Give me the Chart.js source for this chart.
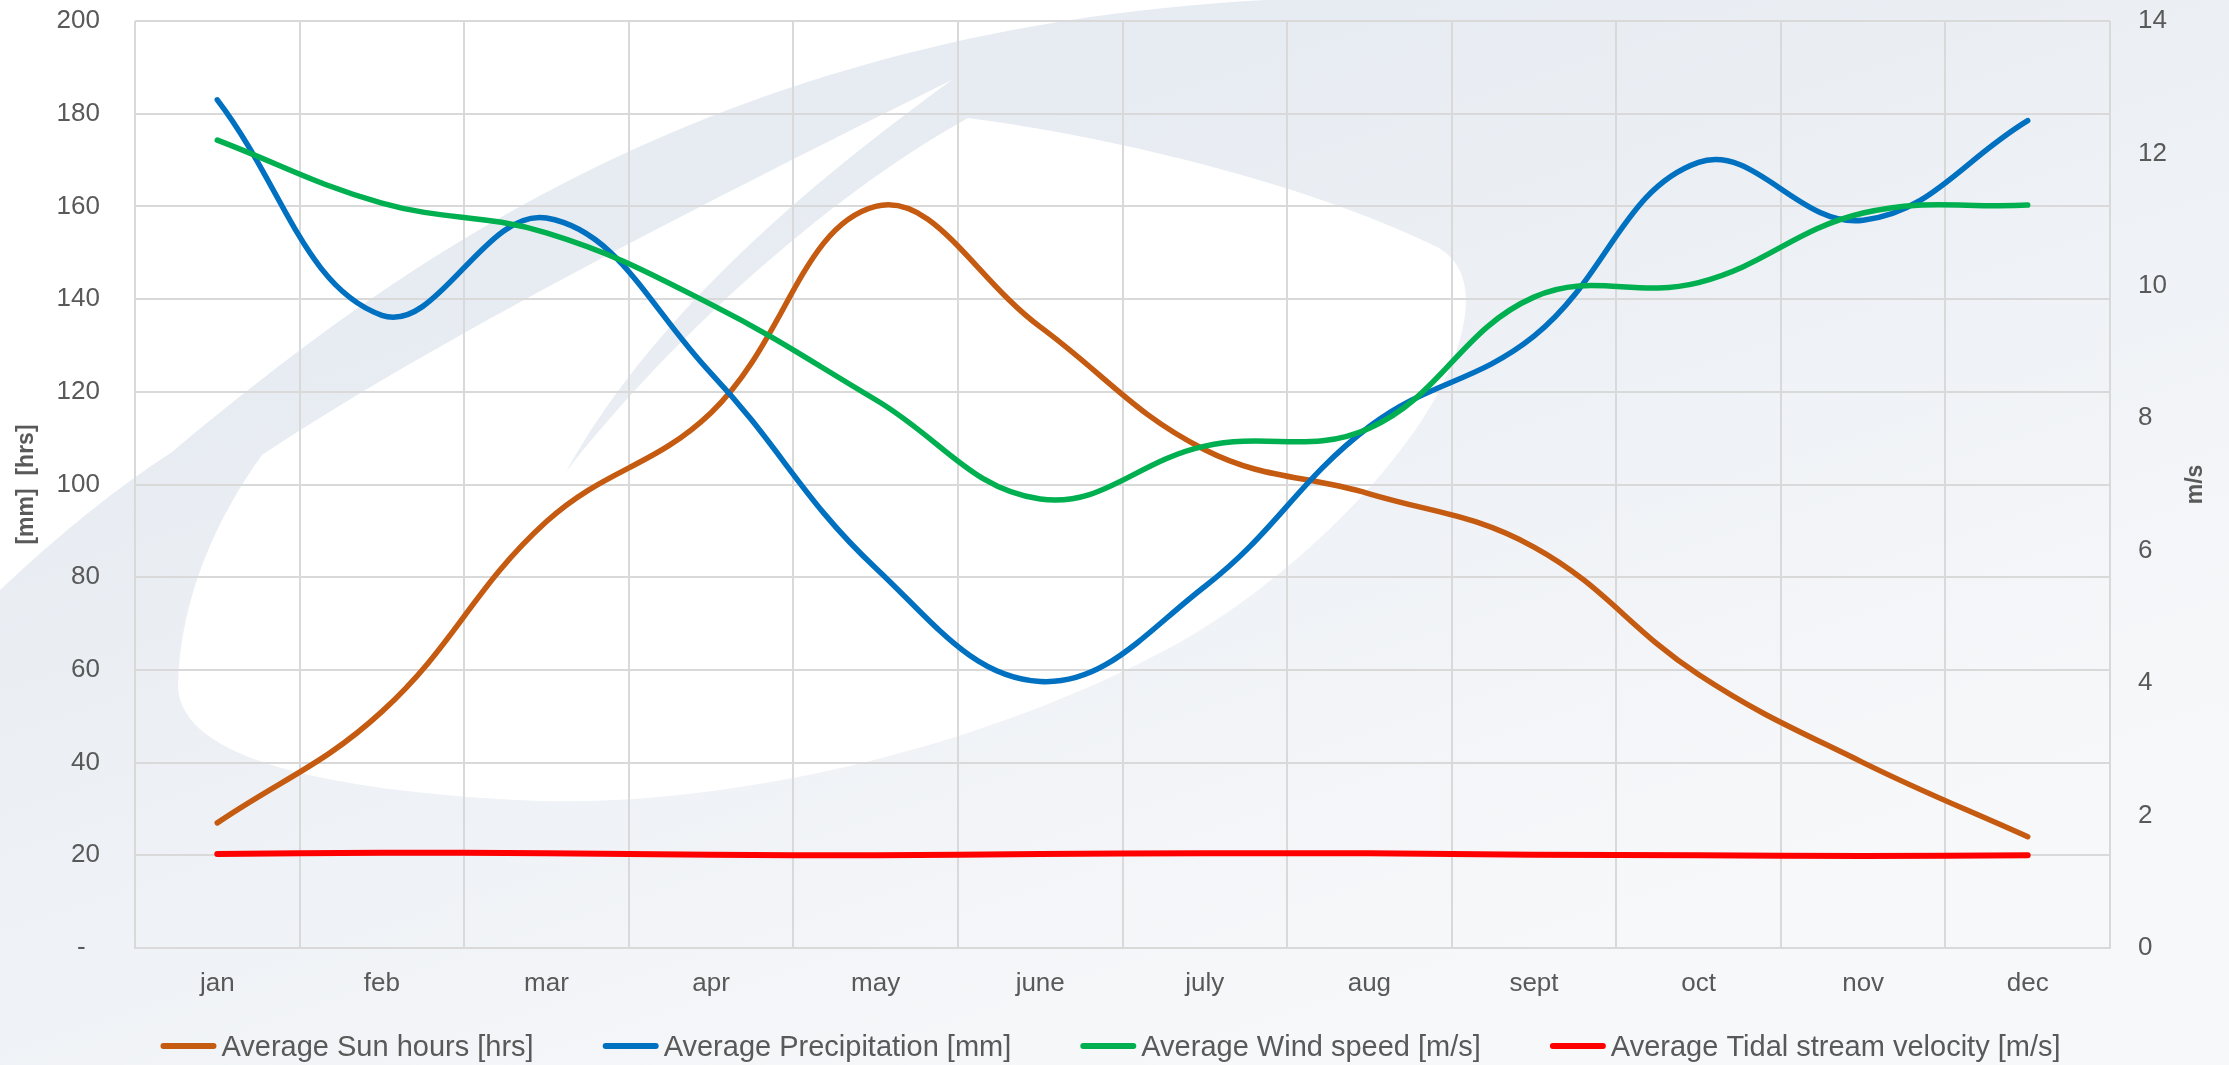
<!DOCTYPE html>
<html>
<head>
<meta charset="utf-8">
<title>Monthly climate averages</title>
<script src="https://cdn.jsdelivr.net/npm/chart.js@4.4.1/dist/chart.umd.min.js"></script>
<style>
  html, body { margin: 0; padding: 0; background: #ffffff; }
  #wrap { width: 2229px; height: 1065px; position: relative; }
  canvas { display: block; }
</style>
</head>
<body>
<div id="wrap"><canvas id="chart" width="2229" height="1065"></canvas></div>
<script>
// Month categories
const months = ['jan', 'feb', 'mar', 'apr', 'may', 'june', 'july', 'aug', 'sept', 'oct', 'nov', 'dec'];

// Left axis series ([hrs] and [mm])
const sunHours      = [27, 51, 92, 115.5, 160, 134, 107.5, 98, 86.5, 59, 40, 24];
const precipitation = [183, 136.5, 157.5, 124, 82, 57.5, 78, 112.5, 132, 169.5, 157, 178.5];

// Right axis series ([m/s])
const windSpeed     = [12.2, 11.25, 10.8, 9.72, 8.28, 6.78, 7.58, 7.85, 9.83, 10.05, 11.1, 11.22];
const tidalVelocity = [1.42, 1.44, 1.43, 1.41, 1.40, 1.42, 1.43, 1.43, 1.41, 1.40, 1.39, 1.40];

const seriesNames = [
  'Average Sun hours [hrs]',
  'Average Precipitation [mm]',
  'Average Wind speed [m/s]',
  'Average Tidal stream velocity [m/s]'
];
const seriesColors = ['#C55A11', '#0070C0', '#00B050', '#FF0000'];

// Axis ranges and titles
const leftAxisTicks  = { min: 0, max: 200, step: 20 };
const rightAxisTicks = { min: 0, max: 14, step: 2 };
const leftAxisTitle  = '[mm]  [hrs]';
const rightAxisTitle = 'm/s';

const FONT = "'Liberation Sans', Arial, sans-serif";
const TEXT = '#595959';
const GRID = '#D9D9D9';

// Soft swoosh artwork painted behind the whole chart
const backdrop = {
  id: 'backdrop',
  beforeDraw(chart) {
    const ctx = chart.ctx;
    const W = chart.width, H = chart.height;
    ctx.save();
    ctx.fillStyle = '#ffffff';
    ctx.fillRect(0, 0, W, H);

    // large tinted sweep
    const g = ctx.createLinearGradient(1400, 0, 1700, 900);
    g.addColorStop(0, '#e7ecf2');
    g.addColorStop(1, '#f7f8fa');
    ctx.fillStyle = g;
    ctx.beginPath();
    ctx.moveTo(0, 590);
    ctx.quadraticCurveTo(90, 505, 172, 452);
    ctx.bezierCurveTo(380, 280, 700, 30, 1265, 0);
    ctx.lineTo(W, 0);
    ctx.lineTo(W, H);
    ctx.lineTo(0, H);
    ctx.closePath();
    ctx.fill();

    // white eye; the thin crescent between its two lobes stays tinted
    ctx.fillStyle = '#ffffff';
    ctx.beginPath();
    ctx.moveTo(178, 686);
    ctx.bezierCurveTo(180, 600, 215, 520, 262, 455);
    ctx.bezierCurveTo(450, 330, 760, 175, 952, 80);
    ctx.bezierCurveTo(800, 190, 650, 320, 566, 472);
    ctx.bezierCurveTo(660, 350, 820, 200, 968, 118);
    ctx.bezierCurveTo(1100, 135, 1300, 180, 1437, 247);
    ctx.bezierCurveTo(1480, 270, 1470, 330, 1440, 390);
    ctx.bezierCurveTo(1380, 500, 1250, 610, 1150, 658);
    ctx.bezierCurveTo(950, 760, 700, 810, 517, 800);
    ctx.bezierCurveTo(330, 790, 180, 760, 178, 686);
    ctx.closePath();
    ctx.fill();
    ctx.restore();
  }
};

// Right axis title and the legend row
const decorations = {
  id: 'decorations',
  afterDraw(chart) {
    const ctx = chart.ctx;
    const area = chart.chartArea;
    ctx.save();

    ctx.fillStyle = TEXT;
    ctx.font = `bold 23px ${FONT}`;
    ctx.textAlign = 'center';
    ctx.textBaseline = 'middle';
    ctx.translate(2196, (area.top + area.bottom) / 2);
    ctx.rotate(-Math.PI / 2);
    ctx.fillText(rightAxisTitle, 0, 0);
    ctx.setTransform(1, 0, 0, 1, 0, 0);

    const sample = 56, gap = 5, spacing = 69, y = 1048;
    ctx.font = `29px ${FONT}`;
    const widths = seriesNames.map(n => ctx.measureText(n).width);
    const total = widths.reduce((a, w) => a + sample + gap + w, 0) + spacing * (seriesNames.length - 1);
    let x = chart.width / 2 - 4 - total / 2;
    ctx.textAlign = 'left';
    ctx.textBaseline = 'middle';
    seriesNames.forEach((name, i) => {
      ctx.strokeStyle = seriesColors[i];
      ctx.lineWidth = 6;
      ctx.lineCap = 'round';
      ctx.beginPath();
      ctx.moveTo(x + 3, y - 2);
      ctx.lineTo(x + sample - 3, y - 2);
      ctx.stroke();
      ctx.fillStyle = TEXT;
      ctx.fillText(name, x + sample + gap, y);
      x += sample + gap + widths[i] + spacing;
    });
    ctx.restore();
  }
};

function lineSeries(i, data, axis, order) {
  return {
    label: seriesNames[i],
    data: data,
    yAxisID: axis,
    borderColor: seriesColors[i],
    backgroundColor: seriesColors[i],
    borderWidth: i === 3 ? 6 : 5.5,
    borderCapStyle: 'round',
    borderJoinStyle: 'round',
    tension: 0.4,
    pointRadius: 0,
    pointHoverRadius: 0,
    fill: false,
    order: order
  };
}

new Chart(document.getElementById('chart').getContext('2d'), {
  type: 'line',
  data: {
    labels: months,
    datasets: [
      lineSeries(0, sunHours, 'y', 4),
      lineSeries(1, precipitation, 'y', 3),
      lineSeries(2, windSpeed, 'y1', 2),
      lineSeries(3, tidalVelocity, 'y1', 1)
    ]
  },
  options: {
    responsive: false,
    animation: false,
    devicePixelRatio: 1,
    layout: { padding: { top: 21, bottom: 50, left: 0, right: 0 } },
    font: { family: FONT },
    plugins: {
      legend: { display: false },
      tooltip: { enabled: false }
    },
    scales: {
      x: {
        type: 'category',
        offset: true,
        grid: { offset: true, color: GRID, lineWidth: 2, drawTicks: false },
        border: { color: GRID, width: 2 },
        ticks: { padding: 20, color: TEXT, font: { family: FONT, size: 26 }, maxRotation: 0 },
        afterFit(scale) { scale.height = 67; }
      },
      y: {
        position: 'left',
        min: leftAxisTicks.min,
        max: leftAxisTicks.max,
        grid: { color: GRID, lineWidth: 2, drawTicks: true, tickLength: 33, tickColor: 'rgba(0,0,0,0)' },
        border: { display: false },
        ticks: {
          stepSize: leftAxisTicks.step,
          padding: 2,
          color: TEXT,
          font: { family: FONT, size: 26 },
          callback: v => (v === 0 ? '-  ' : String(v))
        },
        title: {
          display: true,
          text: leftAxisTitle,
          color: TEXT,
          font: { family: FONT, size: 23, weight: 'bold' },
          padding: { top: 13, bottom: 0 }
        },
        afterFit(scale) { scale.width = 135; }
      },
      y1: {
        position: 'right',
        min: rightAxisTicks.min,
        max: rightAxisTicks.max,
        grid: { drawOnChartArea: false, drawTicks: true, tickLength: 26, tickColor: 'rgba(0,0,0,0)' },
        border: { display: false },
        ticks: {
          stepSize: rightAxisTicks.step,
          padding: 2,
          color: TEXT,
          font: { family: FONT, size: 26 }
        },
        afterFit(scale) { scale.width = 119; }
      }
    }
  },
  plugins: [backdrop, decorations]
});
</script>
</body>
</html>
